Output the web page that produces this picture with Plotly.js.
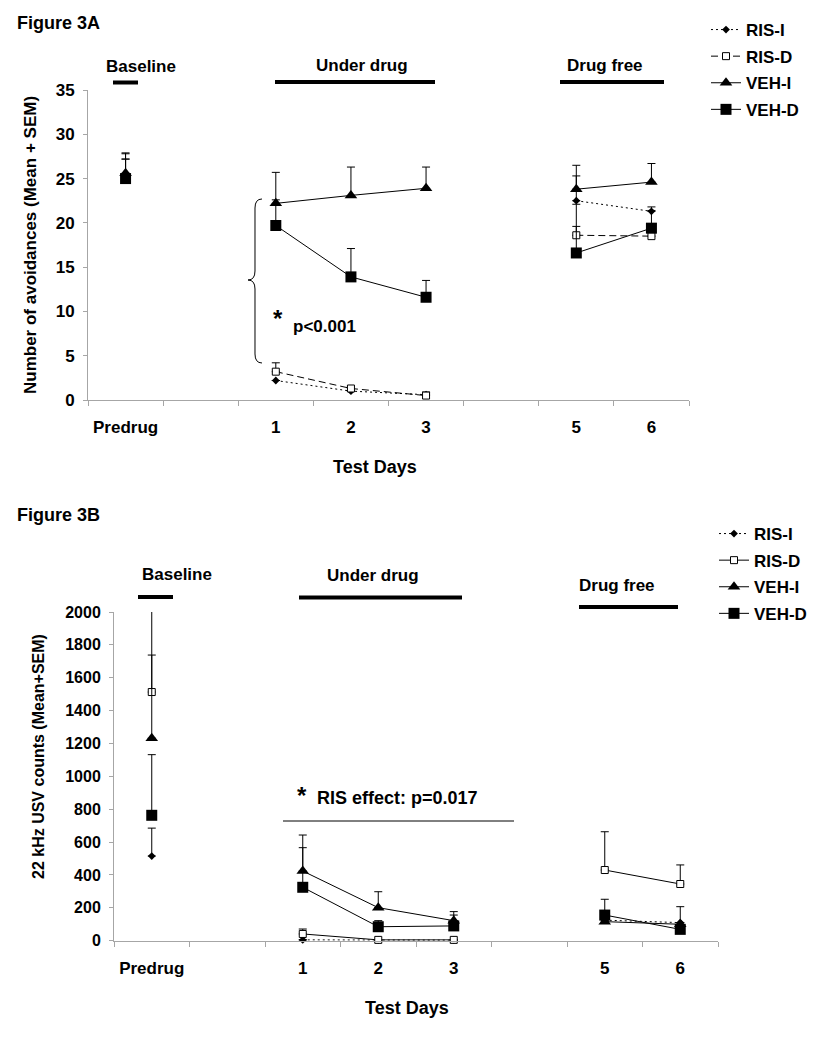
<!DOCTYPE html>
<html><head><meta charset="utf-8">
<script src="https://cdn.plot.ly/plotly-3.0.1.min.js"></script>
<style>body{margin:0;background:#fff}#chart{width:832px;height:1050px}</style>
</head><body><div id="chart"></div>
<script>
// ---------- data ----------
const days = ['Predrug', ' ', '1', '2', '3', '  ', '5', '6'];
const seriesNames = ['RIS-I', 'RIS-D', 'VEH-I', 'VEH-D'];

// Figure 3A: number of avoidances (mean) and SEM (plus only)
const risI_A = [25.3, null, 2.2, 1.0, 0.6, null, 22.5, 21.3];
const risI_A_sem = [2.5, null, 0, 0, 0.3, null, 2.8, 0.5];
const risD_A = [25.2, null, 3.2, 1.3, 0.5, null, 18.6, 18.5];
const risD_A_sem = [2.7, null, 1.0, 0.2, 0.3, null, 1.0, 0.4];
const vehI_A = [25.6, null, 22.2, 23.1, 23.9, null, 23.8, 24.6];
const vehI_A_sem = [1.6, null, 3.5, 3.2, 2.4, null, 2.7, 2.1];
const vehD_A = [25.0, null, 19.7, 13.9, 11.6, null, 16.6, 19.4];
const vehD_A_sem = [2.2, null, 2.9, 3.2, 1.9, null, 5.5, 2.0];

// Figure 3B: 22 kHz USV counts (mean) and SEM (plus only)
const risI_B = [515, null, 5, 3, 3, null, 125, 110];
const risI_B_sem = [170, null, 0, 0, 0, null, 0, 0];
const risD_B = [1513, null, 41, 5, 5, null, 430, 345];
const risD_B_sem = [225, null, 30, 0, 0, null, 233, 116];
const vehI_B = [1232, null, 424, 201, 122, null, 116, 100];
const vehI_B_sem = [801, null, 219, 97, 55, null, 20, 107];
const vehD_B = [763, null, 325, 85, 90, null, 156, 69];
const vehD_B_sem = [369, null, 241, 37, 66, null, 96, 0];

// ---------- helpers ----------
const W = 832, H = 1050;
const X = p => p / W;
const Y = p => 1 - p / H;
const FONT = 'Liberation Sans, Arial, sans-serif';
const zeros = n => n.map(() => 0);

const styles = {
  'RIS-I': {line: {color: 'black', width: 1, dash: '2px,3px'}, marker: {symbol: 'diamond', size: 6, color: 'black'}},
  'RIS-D-A': {line: {color: 'black', width: 1, dash: '7px,4px'}, marker: {symbol: 'square', size: 7, color: 'white', line: {color: 'black', width: 1}}},
  'RIS-D-B': {line: {color: 'black', width: 1}, marker: {symbol: 'square', size: 7, color: 'white', line: {color: 'black', width: 1}}},
  'VEH-I': {line: {color: 'black', width: 1}, marker: {symbol: 'triangle-up', size: 11, color: 'black'}},
  'VEH-D': {line: {color: 'black', width: 1}, marker: {symbol: 'square', size: 11, color: 'black'}}
};

function trace(name, styleKey, y, sem, xa, ya, legend, group) {
  const s = styles[styleKey];
  return {
    type: 'scatter', mode: 'lines+markers', name: name,
    x: days, y: y, xaxis: xa, yaxis: ya, legend: legend, legendgroup: group,
    connectgaps: false, cliponaxis: false,
    line: s.line, marker: s.marker,
    error_y: {type: 'data', symmetric: false, array: sem, arrayminus: zeros(sem),
              color: 'black', thickness: 1, width: 4}
  };
}

const data = [
  trace(seriesNames[0], 'RIS-I', risI_A, risI_A_sem, 'x', 'y', 'legend', 'a1'),
  trace(seriesNames[1], 'RIS-D-A', risD_A, risD_A_sem, 'x', 'y', 'legend', 'a2'),
  trace(seriesNames[2], 'VEH-I', vehI_A, vehI_A_sem, 'x', 'y', 'legend', 'a3'),
  trace(seriesNames[3], 'VEH-D', vehD_A, vehD_A_sem, 'x', 'y', 'legend', 'a4'),
  trace(seriesNames[0], 'RIS-I', risI_B, risI_B_sem, 'x2', 'y2', 'legend2', 'b1'),
  trace(seriesNames[1], 'RIS-D-B', risD_B, risD_B_sem, 'x2', 'y2', 'legend2', 'b2'),
  trace(seriesNames[2], 'VEH-I', vehI_B, vehI_B_sem, 'x2', 'y2', 'legend2', 'b3'),
  trace(seriesNames[3], 'VEH-D', vehD_B, vehD_B_sem, 'x2', 'y2', 'legend2', 'b4')
];

const axisGray = '#a6a6a6';
function xAxis(domain, anchor) {
  return {
    domain: domain, anchor: anchor, type: 'category',
    categoryorder: 'array', categoryarray: days, range: [-0.5, 7.5],
    tickson: 'boundaries', ticks: 'outside', ticklen: 5, tickcolor: axisGray, tickwidth: 1,
    showline: true, linecolor: axisGray, linewidth: 1, showgrid: false, zeroline: false,
    tickfont: {family: FONT, size: 17, color: 'black', weight: 'bold'},
    ticklabelstandoff: 12, fixedrange: true
  };
}
function yAxis(domain, anchor, range, dtick, size) {
  return {
    domain: domain, anchor: anchor, range: range, dtick: dtick, tick0: 0,
    ticks: 'outside', ticklen: 4, tickcolor: axisGray, tickwidth: 1,
    showline: true, linecolor: axisGray, linewidth: 1, showgrid: false, zeroline: false,
    tickfont: {family: FONT, size: size, color: 'black', weight: 'bold'},
    ticklabelstandoff: 5, fixedrange: true
  };
}

function ann(text, x, y, size, opts) {
  return Object.assign({
    text: text, x: X(x), y: Y(y), xref: 'paper', yref: 'paper',
    xanchor: 'center', yanchor: 'middle', showarrow: false,
    font: {family: FONT, size: size, color: 'black', weight: 'bold'}
  }, opts || {});
}
function hbar(x0, x1, y, w) {
  return {type: 'line', xref: 'paper', yref: 'paper', x0: X(x0), x1: X(x1), y0: Y(y), y1: Y(y),
          line: {color: 'black', width: w}};
}
function pt(x, y) { return X(x).toFixed(5) + ',' + Y(y).toFixed(5); }
const bracePath = 'M' + pt(262, 199) + ' Q' + pt(255, 199) + ' ' + pt(255, 208) +
  ' L' + pt(255, 271) + ' Q' + pt(255, 280) + ' ' + pt(248, 280) +
  ' Q' + pt(255, 280) + ' ' + pt(255, 289) + ' L' + pt(255, 354) +
  ' Q' + pt(255, 363) + ' ' + pt(262, 363);

const legendFont = {family: FONT, size: 17, color: 'black', weight: 'bold'};
const layout = {
  width: W, height: H, autosize: false,
  margin: {l: 0, r: 0, t: 0, b: 0, pad: 0},
  paper_bgcolor: 'white', plot_bgcolor: 'white',
  showlegend: true,
  xaxis: xAxis([X(88), X(689)], 'y'),
  yaxis: yAxis([Y(400), Y(90)], 'x', [0, 35], 5, 17),
  xaxis2: xAxis([X(114), X(718)], 'y2'),
  yaxis2: yAxis([Y(940.7), Y(612)], 'x2', [0, 2000], 200, 16),
  legend: {x: X(706), y: Y(12), xanchor: 'left', yanchor: 'top', font: legendFont,
           bgcolor: 'rgba(0,0,0,0)', borderwidth: 0, tracegroupgap: 1.5},
  legend2: {x: X(714), y: Y(516), xanchor: 'left', yanchor: 'top', font: legendFont,
           bgcolor: 'rgba(0,0,0,0)', borderwidth: 0, tracegroupgap: 1.5},
  annotations: [
    ann('Figure 3A', 15, 23, 18, {xanchor: 'left'}),
    ann('Baseline', 141, 67, 17),
    ann('Under drug', 362, 66, 17),
    ann('Drug free', 605, 65, 17),
    ann('*', 278, 318, 24),
    ann('p<0.001', 324, 326, 17),
    ann('Number of avoidances (Mean + SEM)', 30, 245, 17, {textangle: -90}),
    ann('Test Days', 375, 467, 18),
    ann('Figure 3B', 15, 515, 18, {xanchor: 'left'}),
    ann('Baseline', 177, 574, 17),
    ann('Under drug', 373, 575, 17),
    ann('Drug free', 617, 585, 17),
    ann('*', 302, 795, 24),
    ann('RIS effect: p=0.017', 397, 798, 18),
    ann('22 kHz USV counts (Mean+SEM)', 38, 757, 16, {textangle: -90}),
    ann('Test Days', 407, 1008, 18)
  ],
  shapes: [
    hbar(113, 138, 82.5, 4),
    hbar(275, 435, 82, 4),
    hbar(560, 664, 82, 4),
    {type: 'path', xref: 'paper', yref: 'paper', path: bracePath, line: {color: 'black', width: 1}},
    hbar(138, 173, 597, 4),
    hbar(299, 462, 597.5, 4),
    hbar(579, 678, 607, 4),
    hbar(283, 514, 821, 1)
  ]
};

Plotly.newPlot('chart', data, layout, {staticPlot: true, displayModeBar: false});
</script>
</body></html>
